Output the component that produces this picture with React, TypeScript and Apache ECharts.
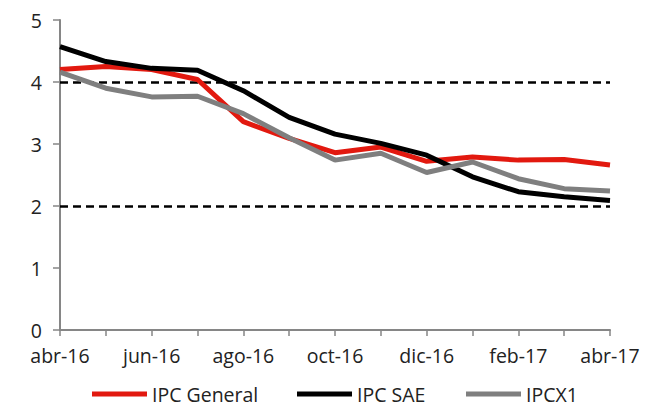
import React, { useEffect, useRef } from "react";
import * as echarts from "echarts";

const categories = ["abr-16", "may-16", "jun-16", "jul-16", "ago-16", "sep-16", "oct-16", "nov-16", "dic-16", "ene-17", "feb-17", "mar-17", "abr-17"];
const ipcGeneral = [4.2, 4.25, 4.2, 4.04, 3.36, 3.09, 2.86, 2.95, 2.72, 2.79, 2.74, 2.75, 2.66];
const ipcSAE = [4.57, 4.33, 4.22, 4.19, 3.86, 3.43, 3.16, 3.01, 2.82, 2.47, 2.23, 2.15, 2.09];
const ipcx1 = [4.16, 3.9, 3.76, 3.77, 3.49, 3.1, 2.74, 2.85, 2.54, 2.71, 2.44, 2.28, 2.24];
const targetLines = [4, 2];

const FONT = "'Open Sans', 'Noto Sans', sans-serif";

export default function App() {
  const ref = useRef<HTMLDivElement>(null);
  useEffect(() => {
    if (!ref.current) return;
    const chart = echarts.init(ref.current, undefined, { renderer: "svg" });
    const legendText = { fontSize: 19.5, color: "#222", fontFamily: FONT, lineHeight: 18 };
    const mkLegend = (name: string, left: number) => ({
      data: [name],
      left,
      top: 384,
      padding: 0,
      icon: "rect",
      itemWidth: 55,
      itemHeight: 5,
      textStyle: legendText,
      selectedMode: false,
    });
    chart.setOption({
      animation: false,
      grid: { left: 60, right: 37, top: 20, bottom: 78, containLabel: false },
      legend: [mkLegend("IPC General", 92), mkLegend("IPC SAE", 297), mkLegend("IPCX1", 466)],
      xAxis: {
        type: "category",
        data: categories,
        boundaryGap: false,
        axisLine: { lineStyle: { color: "#868686", width: 2 } },
        axisTick: { show: true, interval: 0, length: 6, lineStyle: { color: "#868686", width: 1.5 } },
        axisLabel: { interval: 1, fontSize: 19.5, lineHeight: 18, color: "#222", fontFamily: FONT, margin: 16 },
        splitLine: { show: false },
      },
      yAxis: {
        type: "value",
        min: 0,
        max: 5,
        interval: 1,
        axisLine: { show: true, lineStyle: { color: "#868686", width: 2 } },
        axisTick: { show: true, length: 7, inside: false, lineStyle: { color: "#868686", width: 1.5 } },
        axisLabel: { fontSize: 19.5, lineHeight: 18, color: "#222", fontFamily: FONT, margin: 18 },
        splitLine: { show: false },
      },
      series: [
        {
          name: "IPC General",
          type: "line",
          data: ipcGeneral,
          symbol: "none",
          lineStyle: { color: "#e2190f", width: 5 },
          itemStyle: { color: "#e2190f" },
          z: 3,
        },
        {
          name: "IPC SAE",
          type: "line",
          data: ipcSAE,
          symbol: "none",
          lineStyle: { color: "#000000", width: 5 },
          itemStyle: { color: "#000000" },
          z: 4,
        },
        {
          name: "IPCX1",
          type: "line",
          data: ipcx1,
          symbol: "none",
          lineStyle: { color: "#7f7f7f", width: 5 },
          itemStyle: { color: "#7f7f7f" },
          z: 5,
          markLine: {
            silent: true,
            symbol: "none",
            label: { show: false },
            lineStyle: { color: "#000", width: 2.5, type: [8, 5] },
            data: targetLines.map((v) => ({ yAxis: v })),
            z: 2,
          },
        },
      ],
    });
    return () => chart.dispose();
  }, []);
  return <div ref={ref} style={{ width: 647, height: 408, position: "absolute", left: 0, top: 0 }} />;
}
